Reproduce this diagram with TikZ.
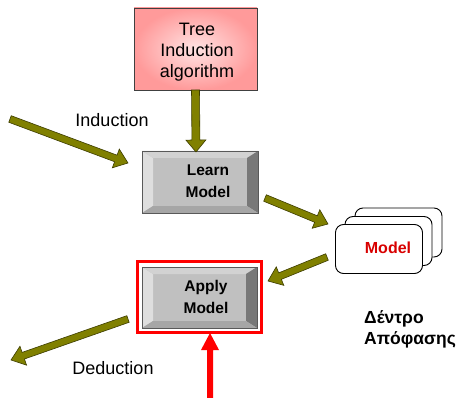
\documentclass[tikz,border=0pt]{standalone}
\usepackage{fontspec}
\setmainfont{Liberation Sans}
\usetikzlibrary{calc}
\definecolor{olivefill}{HTML}{808000}
\definecolor{olivedark}{HTML}{3C3C00}
\definecolor{bevleft}{HTML}{DEDEDE}
\definecolor{bevtop}{HTML}{D2D2D2}
\definecolor{bevface}{HTML}{C0C0C0}
\definecolor{bevright}{HTML}{787878}
\definecolor{bevbottom}{HTML}{A6A6A6}
\definecolor{pinkout}{HTML}{FF9A9A}
\definecolor{pinkin}{HTML}{FFE4E4}
\definecolor{modelred}{HTML}{D80000}
% fat arrow: style, from, to, shaft half width, head half width, head length
\newcommand\fatarr[6]{%
  \coordinate (tmpH) at ($(#3)!#6!(#2)$);
  \path[#1] ($(#2)!#4!90:(#3)$)
    -- ($(tmpH)!#4!90:(#3)$)
    -- ($(tmpH)!#5!90:(#3)$)
    -- (#3)
    -- ($(tmpH)!#5!-90:(#3)$)
    -- ($(tmpH)!#4!-90:(#3)$)
    -- ($(#2)!#4!-90:(#3)$) -- cycle;}
% bevelled button drawn on a named node: name, x-bevel, y-bevel
\newcommand\bevelbox[3]{%
  \fill[bevface] (#1.south west) rectangle (#1.north east);
  \fill[bevleft] (#1.north west) -- (#1.south west) -- ($(#1.south west)+(#2,-#3)$) -- ($(#1.north west)+(#2,#3)$) -- cycle;
  \fill[bevtop] (#1.north west) -- (#1.north east) -- ($(#1.north east)+(-#2,#3)$) -- ($(#1.north west)+(#2,#3)$) -- cycle;
  \fill[bevright] (#1.north east) -- (#1.south east) -- ($(#1.south east)+(-#2,-#3)$) -- ($(#1.north east)+(-#2,#3)$) -- cycle;
  \fill[bevbottom] (#1.south west) -- (#1.south east) -- ($(#1.south east)+(-#2,-#3)$) -- ($(#1.south west)+(#2,-#3)$) -- cycle;
  \draw[black!65, line width=0.8pt] (#1.south west) rectangle (#1.north east);}
\begin{document}
\begin{tikzpicture}[x=1pt,y=-1pt,
  olivearrow/.style={fill=olivefill, draw=olivedark, line width=0.6pt, line join=miter},
  redarrow/.style={fill=red},
  plain/.style={inner sep=0pt, outer sep=0pt},
  lbl/.style={font=\fontsize{18}{21}\selectfont, inner sep=0pt},
  btn/.style={font=\bfseries\fontsize{15.5}{22}\selectfont, align=center, inner sep=0pt},
  card/.style={draw=black, line width=0.9pt, fill=white, rounded corners=8pt, minimum width=87pt, minimum height=49pt, plain}]
\useasboundingbox (0,0) rectangle (465,398);

% Tree induction algorithm box
\node[plain, minimum width=123pt, minimum height=82pt, draw=black!75, line width=0.9pt,
      inner color=pinkin, outer color=pinkout] (tree) at (195.5,49) {};
\node[lbl, align=center] (treetext) at (197,52) {Tree\\Induction\\algorithm};

% Learn model button
\node[plain, minimum width=116pt, minimum height=62pt] (learn) at (200,182) {};
\bevelbox{learn}{11}{7}
\node[btn] (learntext) at (208,181) {Learn\\Model};

% Apply model button with red frame
\node[plain, minimum width=124pt, minimum height=71pt, draw=red, line width=3pt] (frame) at (199,296.5) {};
\node[plain, minimum width=115pt, minimum height=61pt] (apply) at (199.5,297.5) {};
\bevelbox{apply}{11}{7}
\node[btn] (applytext) at (206,296.5) {Apply\\Model};

% Model stack
\node[card] (card3) at (398.5,232.5) {};
\node[card] (card2) at (388.5,241) {};
\node[card] (card1) at (379,249) {};
\node[font=\bfseries\fontsize{16}{19}\selectfont, text=modelred, inner sep=0pt] (modeltext) at (388,248) {Model};

% Labels
\node[lbl] (induction) at (112,120) {Induction};
\node[lbl] (deduction) at (113,368) {Deduction};
\node[font=\bfseries\fontsize{17.5}{21}\selectfont, align=left, anchor=west, inner sep=0pt] (greek) at (364,329) {Δέντρο\\Απόφασης};

% Arrow end points
\coordinate (indstart) at (10,119);
\coordinate (indend) at (128,163);
\coordinate (downstart) at (tree.south);
\coordinate (downend) at (196,152);
\coordinate (lmstart) at (265,198);
\coordinate (lmend) at (328,224);
\coordinate (mastart) at (327,257);
\coordinate (maend) at (268,281);
\coordinate (dedstart) at (128,319);
\coordinate (dedend) at (11,360);
\coordinate (redstart) at (210,398);
\coordinate (redend) at (210,333);

\fatarr{olivearrow}{indstart}{indend}{3.5pt}{10pt}{13pt}
\fatarr{olivearrow}{downstart}{downend}{4pt}{10pt}{12pt}
\fatarr{olivearrow}{lmstart}{lmend}{3.5pt}{10pt}{13pt}
\fatarr{olivearrow}{mastart}{maend}{3.5pt}{10pt}{13pt}
\fatarr{olivearrow}{dedstart}{dedend}{3.5pt}{10pt}{13pt}
\fatarr{redarrow}{redstart}{redend}{3pt}{9pt}{17pt}
\end{tikzpicture}
\end{document}
